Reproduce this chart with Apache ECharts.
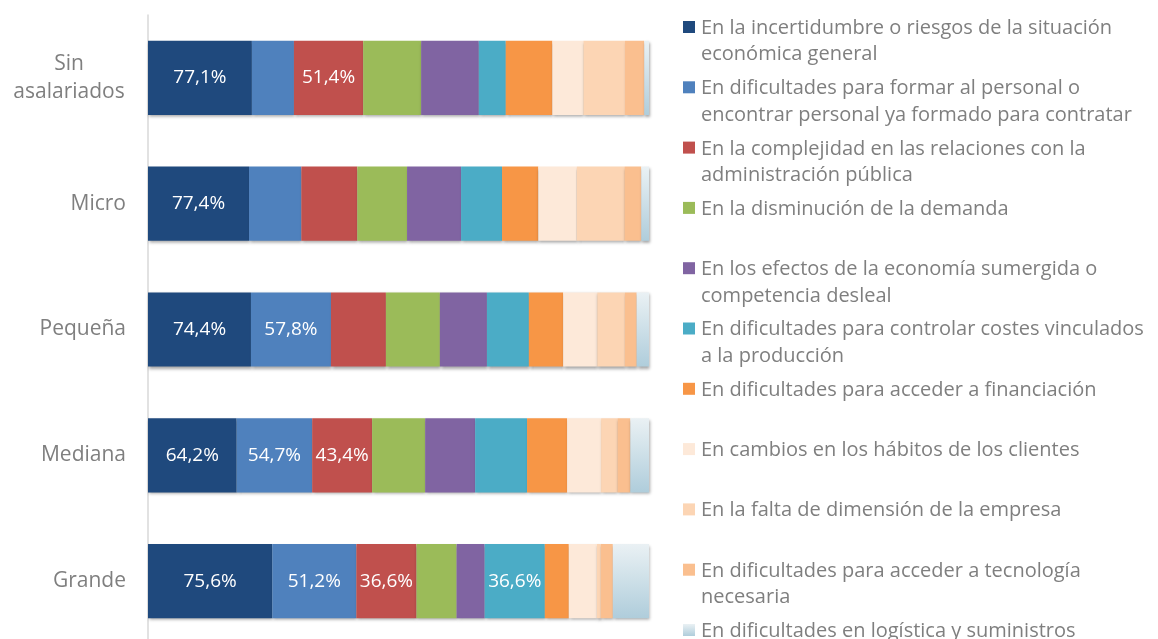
<!DOCTYPE html>
<html>
<head>
<meta charset="utf-8">
<script src="https://cdn.jsdelivr.net/npm/echarts@6/dist/echarts.min.js"></script>
<style>
    html, body { margin: 0; padding: 0; background: #fff; }
    #main { width: 1158px; height: 639px; }
</style>
</head>
<body>
<div id="main"></div>
<script>
var categories = ['Sin asalariados', 'Micro', 'Pequeña', 'Mediana', 'Grande'];

var seriesNames = [
    'En la incertidumbre o riesgos de la situación\neconómica general',
    'En dificultades para formar al personal o\nencontrar personal ya formado para contratar',
    'En la complejidad en las relaciones con la\nadministración pública',
    'En la disminución de la demanda',
    'En los efectos de la economía sumergida o\ncompetencia desleal',
    'En dificultades para controlar costes vinculados\na la producción',
    'En dificultades para acceder a financiación',
    'En cambios en los hábitos de los clientes',
    'En la falta de dimensión de la empresa',
    'En dificultades para acceder a tecnología\nnecesaria',
    'En dificultades en logística y suministros'
];

// % de empresas por tamaño (respuesta múltiple)
var incertidumbre = [77.1, 77.4, 74.4, 64.2, 75.6];
var formarPersonal = [31.2, 40.1, 57.8, 54.7, 51.2];
var administracion = [51.4, 42.9, 39.7, 43.4, 36.6];
var demanda = [43.0, 38.1, 39.0, 38.4, 24.4];
var economiaSumergida = [42.8, 41.4, 34.0, 36.2, 17.1];
var costes = [20.0, 31.4, 30.3, 37.6, 36.6];
var financiacion = [34.6, 27.8, 24.8, 29.0, 14.6];
var habitos = [23.0, 29.4, 24.6, 24.6, 17.1];
var dimension = [30.9, 36.5, 20.0, 11.8, 2.4];
var tecnologia = [14.3, 13.0, 8.5, 9.4, 7.3];
var logistica = [3.5, 5.9, 8.9, 13.5, 22.0];

// series index that carry a value label, per category
var labelled = [[0, 2], [0], [0, 1], [0, 1, 2], [0, 1, 2, 5]];

var allValues = [incertidumbre, formarPersonal, administracion, demanda, economiaSumergida,
    costes, financiacion, habitos, dimension, tecnologia, logistica];

var lastColor = new echarts.graphic.LinearGradient(0, 0, 0, 1, [
    { offset: 0, color: '#eaf1f4' },
    { offset: 1, color: '#afcddb' }
]);
var colors = ['#1f497d', '#4f81bd', '#c0504d', '#9bbb59', '#8064a2', '#4bacc6',
    '#f79646', '#fde9d9', '#fcd5b4', '#fabf8f', lastColor];

var totals = categories.map(function (c, j) {
    var t = 0;
    for (var i = 0; i < allValues.length; i++) t += allValues[i][j];
    return t;
});

var series = allValues.map(function (vals, i) {
    return {
        name: seriesNames[i],
        type: 'bar',
        stack: 'total',
        barCategoryGap: '41%',
        itemStyle: {
            color: colors[i],
            shadowColor: 'rgba(0,0,0,0.35)',
            shadowBlur: 3,
            shadowOffsetX: 1,
            shadowOffsetY: 2
        },
        data: vals.map(function (v, j) {
            return {
                value: v / totals[j] * 100,
                raw: v,
                label: { show: labelled[j].indexOf(i) >= 0 }
            };
        }),
        label: {
            position: 'inside',
            color: '#fff',
            fontFamily: 'Open Sans',
            fontSize: 19,
            formatter: function (p) {
                return p.data.raw.toFixed(1).replace('.', ',') + '%';
            }
        }
    };
});

// legend drawn by hand: marker on first text line, fixed step
var legendItems = seriesNames.map(function (name, i) {
    var y = 27 + i * 60.3;
    return {
        type: 'group',
        children: [
            { type: 'rect', shape: { x: 683, y: y - 6, width: 12, height: 12 }, style: { fill: colors[i] } },
            {
                type: 'text', x: 701, y: y - 12,
                style: { text: name, font: '20px "Open Sans"', lineHeight: 26.5, fill: '#7f7f7f', verticalAlign: 'top' }
            }
        ]
    };
});

var chart = echarts.init(document.getElementById('main'));
chart.setOption({
    animation: false,
    grid: { left: 148, right: 509, top: 15, height: 629, outerBoundsMode: 'none' },
    xAxis: { type: 'value', min: 0, max: 100, show: false },
    yAxis: {
        type: 'category',
        inverse: true,
        data: categories,
        axisLine: { lineStyle: { color: '#d9d9d9', width: 1.5 } },
        axisTick: { show: false },
        axisLabel: {
            margin: 22,
            color: '#7f7f7f',
            fontFamily: 'Open Sans',
            fontSize: 21,
            lineHeight: 28,
            formatter: function (v) {
                if (v === 'Sin asalariados') return '{c|Sin}\n{c|asalariados}';
                return v;
            },
            rich: { c: { width: 114, align: 'center', color: '#7f7f7f', fontFamily: 'Open Sans', fontSize: 21, lineHeight: 28 } }
        }
    },
    series: series,
    graphic: legendItems
});
</script>
</body>
</html>
